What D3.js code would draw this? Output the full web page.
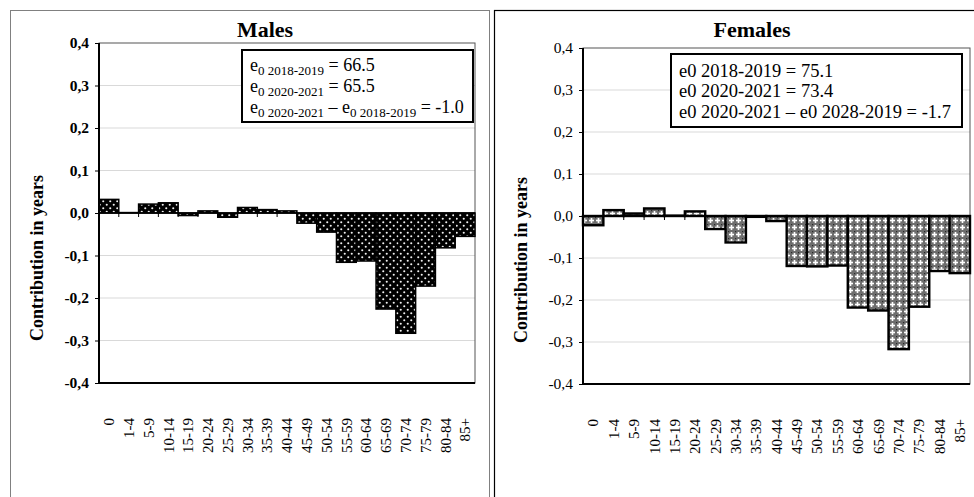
<!DOCTYPE html>
<html>
<head>
<meta charset="utf-8">
<script src="https://cdn.jsdelivr.net/npm/d3@7"></script>
<style>
  html, body { margin: 0; padding: 0; background: #fff; }
  svg { display: block; font-family: "Liberation Serif", "Times New Roman", serif; }
</style>
</head>
<body>
<svg id="chart" width="974" height="497"></svg>
<script>
const ageGroups = ["0","1-4","5-9","10-14","15-19","20-24","25-29","30-34","35-39","40-44","45-49","50-54","55-59","60-64","65-69","70-74","75-79","80-84","85+"];
const malesValues = [0.032, 0.001, 0.021, 0.024, -0.006, 0.005, -0.010, 0.013, 0.008, 0.005, -0.024, -0.045, -0.116, -0.113, -0.226, -0.283, -0.172, -0.082, -0.055];
const femalesValues = [-0.022, 0.014, 0.006, 0.018, 0.001, 0.011, -0.031, -0.063, -0.002, -0.012, -0.119, -0.120, -0.118, -0.218, -0.225, -0.317, -0.216, -0.131, -0.136];
const yTicks = [0.4, 0.3, 0.2, 0.1, 0.0, -0.1, -0.2, -0.3, -0.4];
const titles = ["Males", "Females"];
const yTitle = "Contribution in years";
const malesLegend = [
  [["e",""],["0 2018-2019","sub"],[" = 66.5",""]],
  [["e",""],["0 2020-2021","sub"],[" = 65.5",""]],
  [["e",""],["0 2020-2021","sub"],[" \u2013 e",""],["0 2018-2019","sub"],[" = -1.0",""]]
];
const femalesLegend = [
  "e0 2018-2019 = 75.1",
  "e0 2020-2021 = 73.4",
  "e0 2020-2021 \u2013 e0 2028-2019 = -1.7"
];

const svg = d3.select("#chart");
const defs = svg.append("defs");

// male pattern: black with white dots
const pm = defs.append("pattern").attr("id","pmale").attr("patternUnits","userSpaceOnUse")
  .attr("width",7).attr("height",7);
pm.append("rect").attr("width",7).attr("height",7).attr("fill","#000");
pm.append("circle").attr("cx",1.75).attr("cy",1.75).attr("r",1.05).attr("fill","#f0f0f0");
pm.append("circle").attr("cx",5.25).attr("cy",5.25).attr("r",1.05).attr("fill","#f0f0f0");

// female pattern: grey lattice with white crosses
const pf = defs.append("pattern").attr("id","pfemale").attr("patternUnits","userSpaceOnUse")
  .attr("width",7).attr("height",7);
pf.append("rect").attr("width",7).attr("height",7).attr("fill","#6e6e6e");
pf.append("rect").attr("x",2.7).attr("y",1).attr("width",1.6).attr("height",5).attr("fill","#fff");
pf.append("rect").attr("x",1).attr("y",2.7).attr("width",5).attr("height",1.6).attr("fill","#fff");
pf.append("rect").attr("x",0).attr("y",0).attr("width",1.2).attr("height",1.2).attr("fill","#2a2a2a");

svg.append("rect").attr("width",974).attr("height",497).attr("fill","#fff");

// panel borders
svg.append("rect").attr("x",10.5).attr("y",10.5).attr("width",479).attr("height",500)
  .attr("fill","none").attr("stroke","#808080").attr("stroke-width",1);
svg.append("rect").attr("x",494.5).attr("y",10.5).attr("width",500).attr("height",500)
  .attr("fill","none").attr("stroke","#000").attr("stroke-width",1.2);

const panels = [
  {title: titles[0], values: malesValues, x0: 99, x1: 475, y0: 43, y1: 383, fill: "url(#pmale)", boldTicks: true,
   titleX: 265, titleY: 37, ylabX: 37, ylabY: 258, legend: malesLegend, legendSize: 18,
   box: {x: 242, y: 50, w: 231, h: 72}, textX: 250, lineY: [71, 92, 113], strokeW: 1.5},
  {title: titles[1], values: femalesValues, x0: 583, x1: 970, y0: 48, y1: 384, fill: "url(#pfemale)", boldTicks: false,
   titleX: 752, titleY: 37, ylabX: 521, ylabY: 260, legend: femalesLegend, legendSize: 18.5,
   box: {x: 671, y: 54, w: 291, h: 73}, textX: 679, lineY: [77, 97, 118], strokeW: 2.4}
];

panels.forEach((p, pi) => {
  const g = svg.append("g");
  const x = d3.scaleBand().domain(ageGroups).range([p.x0, p.x1]).padding(0);
  const y = d3.scaleLinear().domain([-0.4, 0.4]).range([p.y1, p.y0]);

  // gridlines
  g.append("g").selectAll("line").data(yTicks.filter(t => t !== 0 && t !== 0.4 && t !== -0.4)).join("line")
    .attr("x1", p.x0).attr("x2", p.x1).attr("y1", d => y(d)).attr("y2", d => y(d))
    .attr("stroke", "#d9d9d9").attr("stroke-width", 1);

  // plot border
  g.append("rect").attr("x", p.x0).attr("y", p.y0).attr("width", p.x1 - p.x0).attr("height", p.y1 - p.y0)
    .attr("fill", "none").attr("stroke", "#555").attr("stroke-width", 1);

  // bars
  g.append("g").selectAll("rect").data(p.values.map((v, i) => ({k: ageGroups[i], v}))).join("rect")
    .attr("x", d => x(d.k)).attr("width", x.bandwidth())
    .attr("y", d => y(Math.max(0, d.v))).attr("height", d => Math.abs(y(d.v) - y(0)))
    .attr("fill", p.fill).attr("stroke", "#000").attr("stroke-width", p.strokeW);

  // zero line
  g.append("line").attr("x1", p.x0).attr("x2", p.x1).attr("y1", y(0)).attr("y2", y(0))
    .attr("stroke", "#000").attr("stroke-width", 1.5);
  // category ticks at zero line
  g.append("g").selectAll("line").data(ageGroups.slice(1)).join("line")
    .attr("x1", d => x(d)).attr("x2", d => x(d)).attr("y1", y(0)).attr("y2", y(0) + 4)
    .attr("stroke", "#000").attr("stroke-width", 1);

  // left axis line and bottom line
  g.append("line").attr("x1", p.x0).attr("x2", p.x0).attr("y1", p.y0).attr("y2", p.y1)
    .attr("stroke", "#000").attr("stroke-width", 2);
  g.append("line").attr("x1", p.x0).attr("x2", p.x1).attr("y1", p.y1).attr("y2", p.y1)
    .attr("stroke", "#000").attr("stroke-width", 2);

  // y axis
  const yAxis = d3.axisLeft(y).tickValues(yTicks).tickSize(4).tickPadding(6)
    .tickFormat(d => d3.format(".1f")(d).replace(".", ",").replace("−", "-"));
  const ya = g.append("g").attr("transform", `translate(${p.x0},0)`).call(yAxis);
  ya.attr("font-family", null);
  ya.select(".domain").remove();
  ya.selectAll("line").attr("stroke", "#000");
  ya.selectAll("text").attr("font-size", 15.5)
    .attr("font-weight", p.boldTicks ? "bold" : "normal").attr("fill", "#000");

  // x labels
  g.append("g").selectAll("text").data(ageGroups).join("text")
    .attr("transform", d => `translate(${x(d) + x.bandwidth() / 2},${p.y1 + 35}) rotate(-90)`)
    .attr("text-anchor", "end").attr("dy", "0.35em")
    .attr("font-size", 15).text(d => d);

  // title
  g.append("text").attr("x", p.titleX).attr("y", p.titleY).attr("text-anchor", "middle")
    .attr("font-weight", "bold").attr("font-size", 22).text(p.title);

  // y title
  g.append("text").attr("transform", `translate(${p.ylabX + 6},${p.ylabY}) rotate(-90)`)
    .attr("text-anchor", "middle").attr("font-weight", "bold").attr("font-size", 18).text(yTitle);

  // legend box
  g.append("rect").attr("x", p.box.x).attr("y", p.box.y).attr("width", p.box.w).attr("height", p.box.h)
    .attr("fill", "#fff").attr("stroke", "#000").attr("stroke-width", 2);
  p.legend.forEach((line, li) => {
    const t = g.append("text").attr("x", p.textX).attr("y", p.lineY[li]).attr("font-size", p.legendSize);
    if (typeof line === "string") {
      t.text(line);
    } else {
      let shift = 0;
      line.forEach(([s, kind]) => {
        const ts = t.append("tspan").text(s);
        if (kind === "sub") { ts.attr("font-size", 13).attr("dy", 4 - shift); shift = 4; }
        else { ts.attr("dy", -shift); shift = 0; }
      });
    }
  });
});
</script>
</body>
</html>
